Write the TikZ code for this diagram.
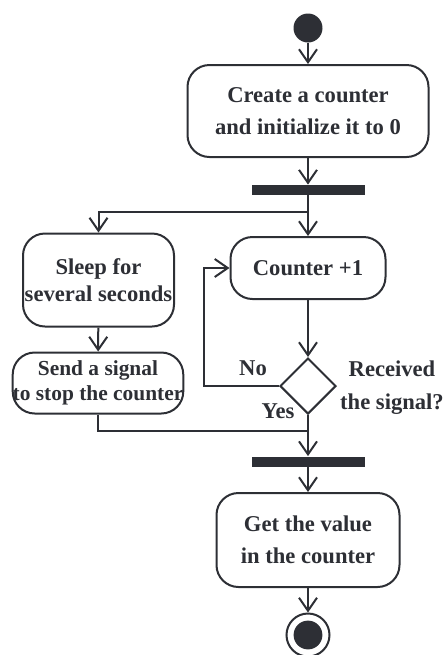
\documentclass[tikz,border=0pt]{standalone}
\usepackage{fontspec}
\setmainfont{Liberation Serif}
\usetikzlibrary{shapes.geometric,arrows.meta}
\definecolor{ink}{RGB}{45,47,53}
\begin{document}
\begin{tikzpicture}[x=0.5pt,y=-0.5pt]
            \tikzset{
	every node/.style={font=\fontsize{11.3}{16}\selectfont\bfseries, text=ink},
	action/.style={draw=ink, line width=1pt, rounded corners=11pt, align=center, inner sep=0pt},
	bar/.style={fill=ink, minimum width=56.5pt, minimum height=5pt, inner sep=0pt},
	decision/.style={draw=ink, line width=1pt, diamond, minimum width=28pt, minimum height=28pt, inner sep=0pt},
	flow/.style={draw=ink, line width=1pt, -{Straight Barb[length=6.5pt,width=9pt,line width=1pt]}},
	plain/.style={draw=ink, line width=1pt}
}
\useasboundingbox (0,0) rectangle (446,655);

% nodes
\node[circle, fill=ink, minimum size=14.5pt, inner sep=0pt] (start) at (308,28) {};
\node[action, minimum width=120.5pt, minimum height=46pt] (create) at (308,111) {Create a counter\\and initialize it to 0};
\node[bar] (fork) at (308,190) {};
\coordinate (split) at (308,212);
\node[action, minimum width=75.5pt, minimum height=46.5pt, font=\fontsize{11.3}{13.5}\selectfont\bfseries] (sleep) at (98.5,280) {Sleep for\\several seconds};
\node[action, minimum width=77.5pt, minimum height=31pt] (counter) at (308,268) {Counter +1};
\node[action, minimum width=85pt, minimum height=30.5pt, font=\fontsize{10.7}{12.5}\selectfont\bfseries] (send) at (98,383) {Send a signal\\to stop the counter};
\node[decision] (check) at (308,386) {};
\coordinate (loop) at (204,386);
\node (no) at (253,368) {No};
\node (yes) at (278,411) {Yes};
\node[align=center, font=\fontsize{11.3}{16.5}\selectfont\bfseries] (ask) at (392,388) {Received\\the signal?};
\coordinate (merge) at (308,431);
\node[bar] (join) at (308,461.5) {};
\node[action, minimum width=91.5pt, minimum height=47pt] (get) at (308,540) {Get the value\\in the counter};
\node[circle, draw=ink, line width=1pt, minimum size=21.5pt, inner sep=0pt] (stop) at (308,635) {};
\fill[ink] (stop.center) circle[radius=7.2pt];

% edges
\draw[flow] (start) -- (create);
\draw[flow] (create) -- (fork);
\draw[flow] (fork) -- (counter);
\draw[flow] (split) -| (sleep);
\draw[flow] (sleep) -- (send);
\draw[flow] (counter) -- (check);
\draw[flow] (check.west) -- (loop) |- (counter.west);
\draw[plain] (send) |- (merge);
\draw[flow] (check) -- (join);
\draw[flow] (join) -- (get);
\draw[flow] (get) -- (stop);
        \end{tikzpicture}
\end{document}
